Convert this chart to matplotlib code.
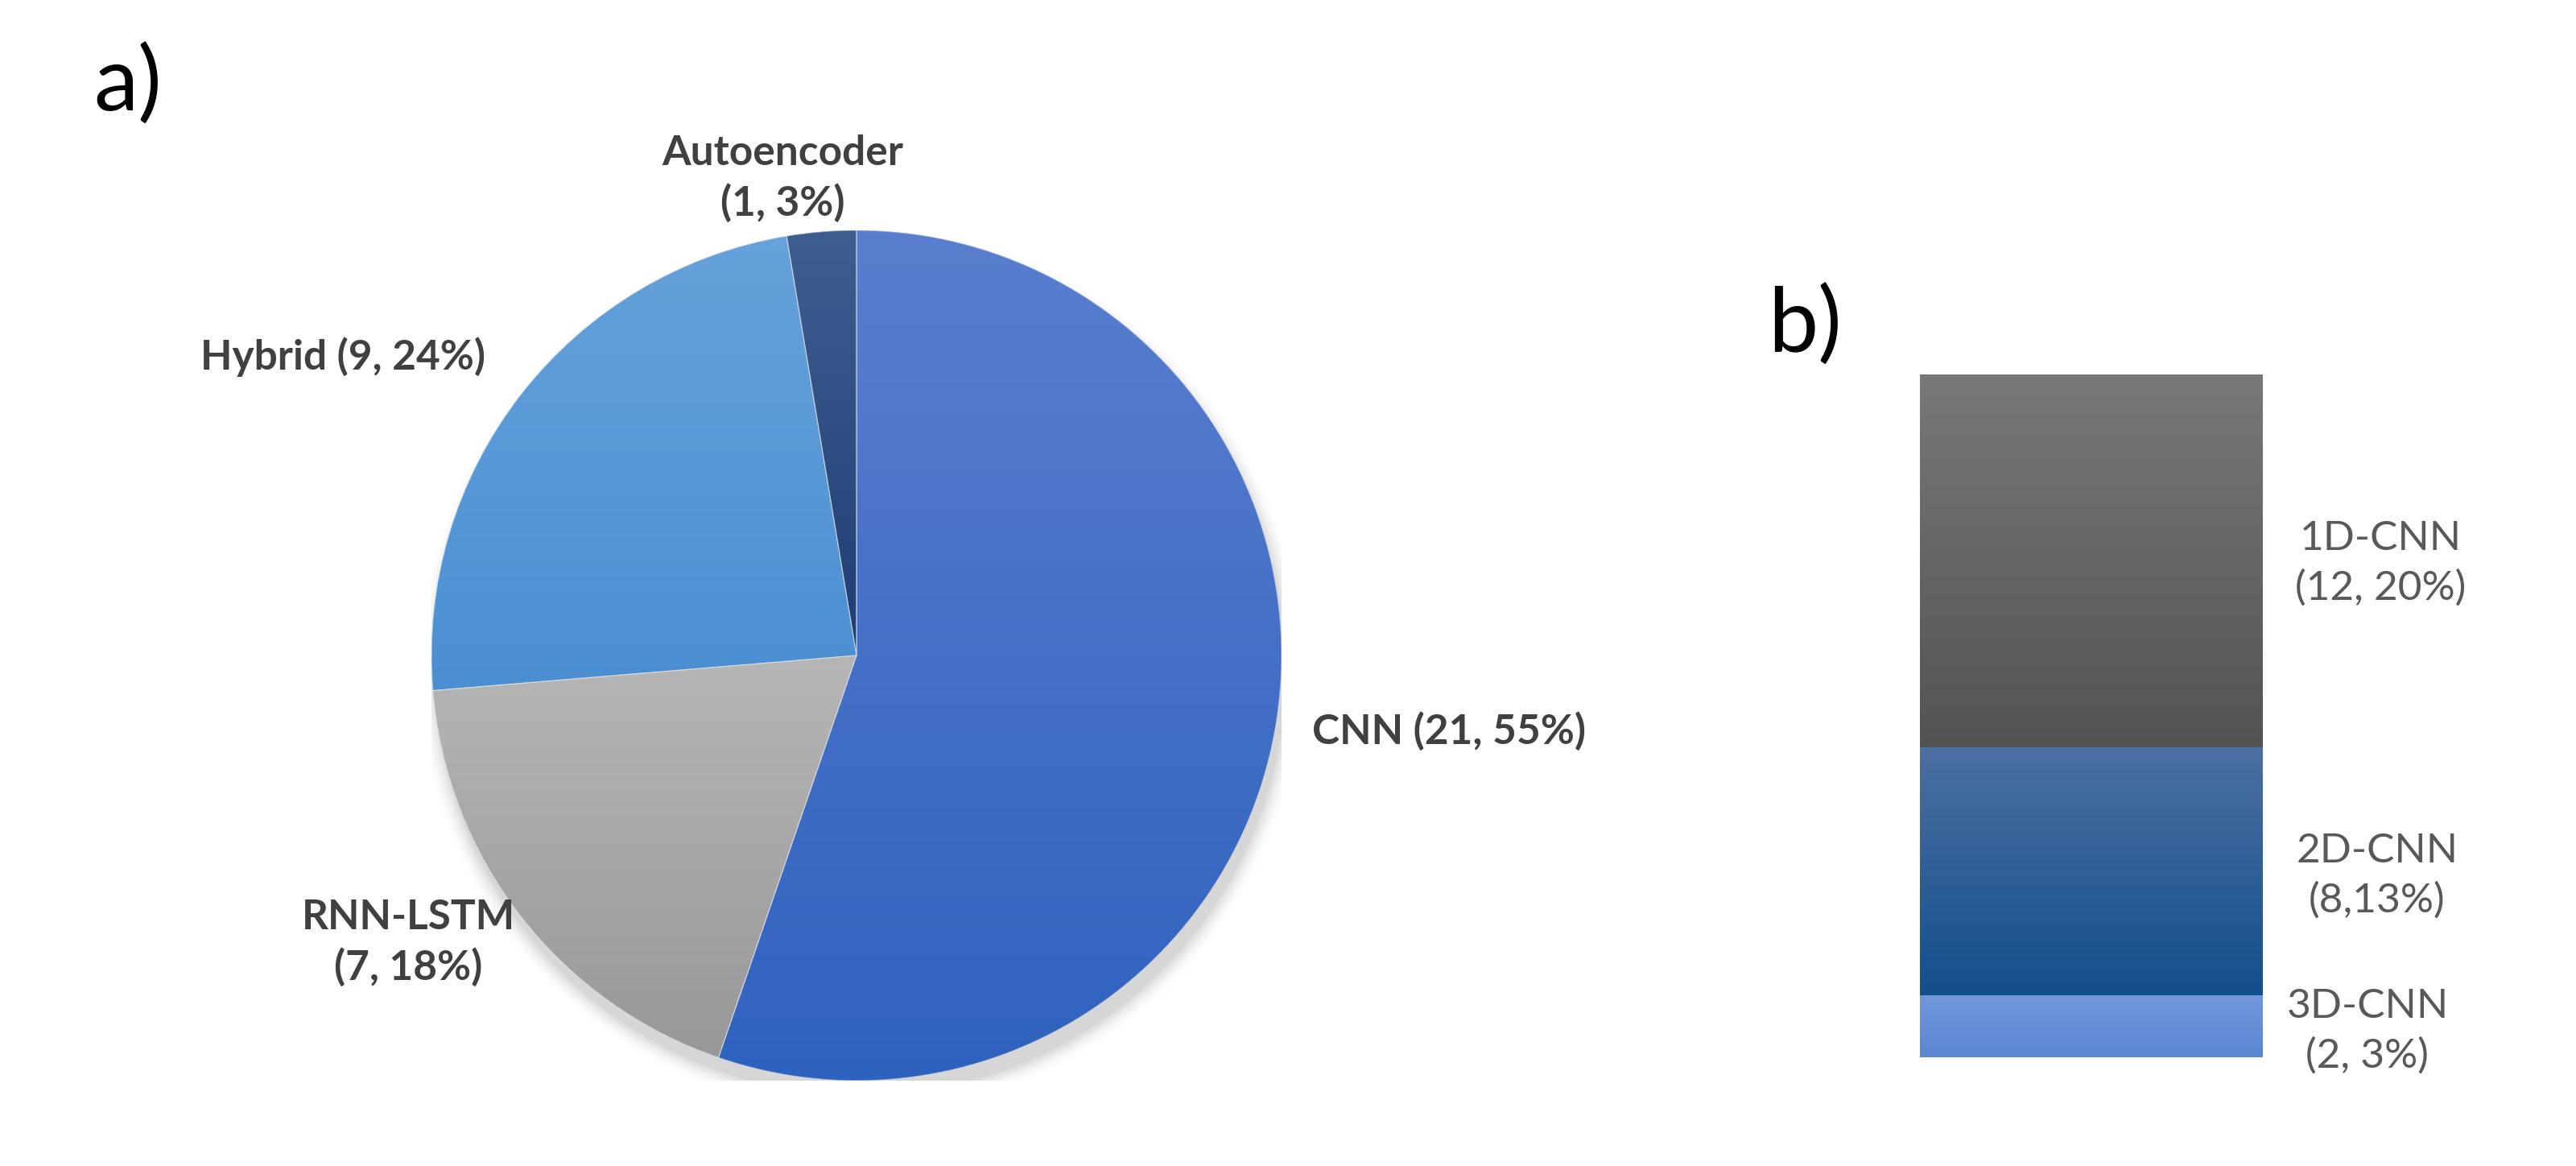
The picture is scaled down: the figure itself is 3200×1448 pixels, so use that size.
import matplotlib
matplotlib.use("Agg")
import matplotlib.pyplot as plt
import matplotlib.patches as mpatches
import numpy as np
from matplotlib.colors import LinearSegmentedColormap

# ---- data ----
pie_labels = ["CNN", "RNN-LSTM", "Hybrid", "Autoencoder"]
pie_counts = [21, 7, 9, 1]
pie_pcts = ["55%", "18%", "24%", "3%"]
pie_top_colors = ["#5A7ECE", "#B6B6B6", "#66A2DB", "#3F5E90"]
pie_bot_colors = ["#2F62BF", "#989898", "#4A8FD2", "#1E3D74"]

bar_labels = ["3D-CNN", "2D-CNN", "1D-CNN"]
bar_counts = [2, 8, 12]
bar_texts = ["3D-CNN\n(2, 3%)", "2D-CNN\n(8,13%)", "1D-CNN\n(12, 20%)"]
bar_top_colors = ["#7097DB", "#4C70A1", "#787878"]
bar_bot_colors = ["#5A86D2", "#134F8C", "#535353"]

W, H = 3200, 1448
fig = plt.figure(figsize=(W / 100, H / 100), dpi=100)
fig.patch.set_facecolor("white")

def fx(x):
    return x / W

def fy(y):
    return 1 - y / H

FONT = ["Lato", "DejaVu Sans"]

# ---- pie (a) ----
cx, cy, R = 1064, 814, 528
axp = fig.add_axes([fx(cx - R), fy(cy + R), 2 * R / W, 2 * R / H])
axp.set_axis_off()

# soft shadow
for i, a in enumerate(np.linspace(0.035, 0.005, 8)):
    sh = plt.Circle((0.01, -0.035), 1.0 + 0.006 * i, color="#000000", alpha=a, lw=0, zorder=0)
    axp.add_patch(sh)

wedges, _ = axp.pie(pie_counts, startangle=90, counterclock=False,
                    colors=pie_bot_colors, radius=1.0,
                    wedgeprops=dict(linewidth=0))
for w, ct, cb in zip(wedges, pie_top_colors, pie_bot_colors):
    w.set_zorder(1)
    bb = w.get_path().get_extents(w.get_patch_transform())
    cmap = LinearSegmentedColormap.from_list("g", [cb, ct])
    grad = np.linspace(0, 1, 256).reshape(-1, 1)
    im = axp.imshow(grad, cmap=cmap, origin="lower", aspect="auto",
                    extent=[bb.x0, bb.x1, bb.y0, bb.y1], zorder=2,
                    interpolation="bilinear")
    im.set_clip_path(w)
for w in wedges:
    w2 = mpatches.Wedge(w.center, w.r, w.theta1, w.theta2,
                        facecolor="none", edgecolor="#e8e8e8",
                        linewidth=0.8, alpha=0.6, zorder=3)
    axp.add_patch(w2)
axp.set_xlim(-1, 1)
axp.set_ylim(-1, 1)
axp.set_aspect("equal")

lab_col = "#404040"
fs_pie = 37
fig.text(fx(972), fy(222), "Autoencoder\n(1, 3%)", ha="center", va="center",
         fontsize=fs_pie, fontweight="bold", color=lab_col, family=FONT, linespacing=1.35)
fig.text(fx(426), fy(443), "Hybrid (9, 24%)", ha="center", va="center",
         fontsize=fs_pie, fontweight="bold", color=lab_col, family=FONT)
fig.text(fx(507), fy(1171), "RNN-LSTM\n(7, 18%)", ha="center", va="center",
         fontsize=fs_pie, fontweight="bold", color=lab_col, family=FONT, linespacing=1.35)
fig.text(fx(1800), fy(908), "CNN (21, 55%)", ha="center", va="center",
         fontsize=fs_pie, fontweight="bold", color=lab_col, family=FONT)

# ---- stacked bar (b) ----
bx0, bx1, by_top, by_bot = 2385, 2811, 465, 1313
axb = fig.add_axes([fx(bx0), fy(by_bot), (bx1 - bx0) / W, (by_bot - by_top) / H])
axb.set_axis_off()
bottoms = np.concatenate([[0], np.cumsum(bar_counts)[:-1]])
total = float(np.sum(bar_counts))
for i, a in enumerate(np.linspace(0.05, 0.008, 6)):
    axb.bar([0.012], [total], bottom=-0.12 - 0.03 * i, width=1.0 + 0.012 * i,
            color="black", alpha=a, lw=0, zorder=0)
bars = axb.bar([0] * len(bar_counts), bar_counts, bottom=bottoms, width=1.0,
               color=bar_bot_colors, lw=0, zorder=1)
for r, ct, cb in zip(bars, bar_top_colors, bar_bot_colors):
    x0, y0 = r.get_x(), r.get_y()
    cmap = LinearSegmentedColormap.from_list("g", [cb, ct])
    grad = np.linspace(0, 1, 256).reshape(-1, 1)
    im = axb.imshow(grad, cmap=cmap, origin="lower", aspect="auto",
                    extent=[x0, x0 + r.get_width(), y0, y0 + r.get_height()],
                    zorder=2, interpolation="bilinear")
    im.set_clip_path(r)
axb.set_xlim(-0.5, 0.5)
axb.set_ylim(0, total)

bar_col = "#595959"
fs_bar = 37
# label centres, in pixels of the full picture
label_px = [(2941, 1281), (2953, 1088), (2957, 700)]
for txt, (lx, ly) in zip(bar_texts, label_px):
    fig.text(fx(lx), fy(ly), txt, ha="center", va="center",
             fontsize=fs_bar, color=bar_col, family=FONT, linespacing=1.4)

# panel labels
fig.text(fx(116), fy(106), "a)", ha="left", va="center", fontsize=80,
         color="black", family=FONT)
fig.text(fx(2196), fy(405), "b)", ha="left", va="center", fontsize=80,
         color="black", family=FONT)

fig.savefig("out.png", dpi=100, facecolor="white")
